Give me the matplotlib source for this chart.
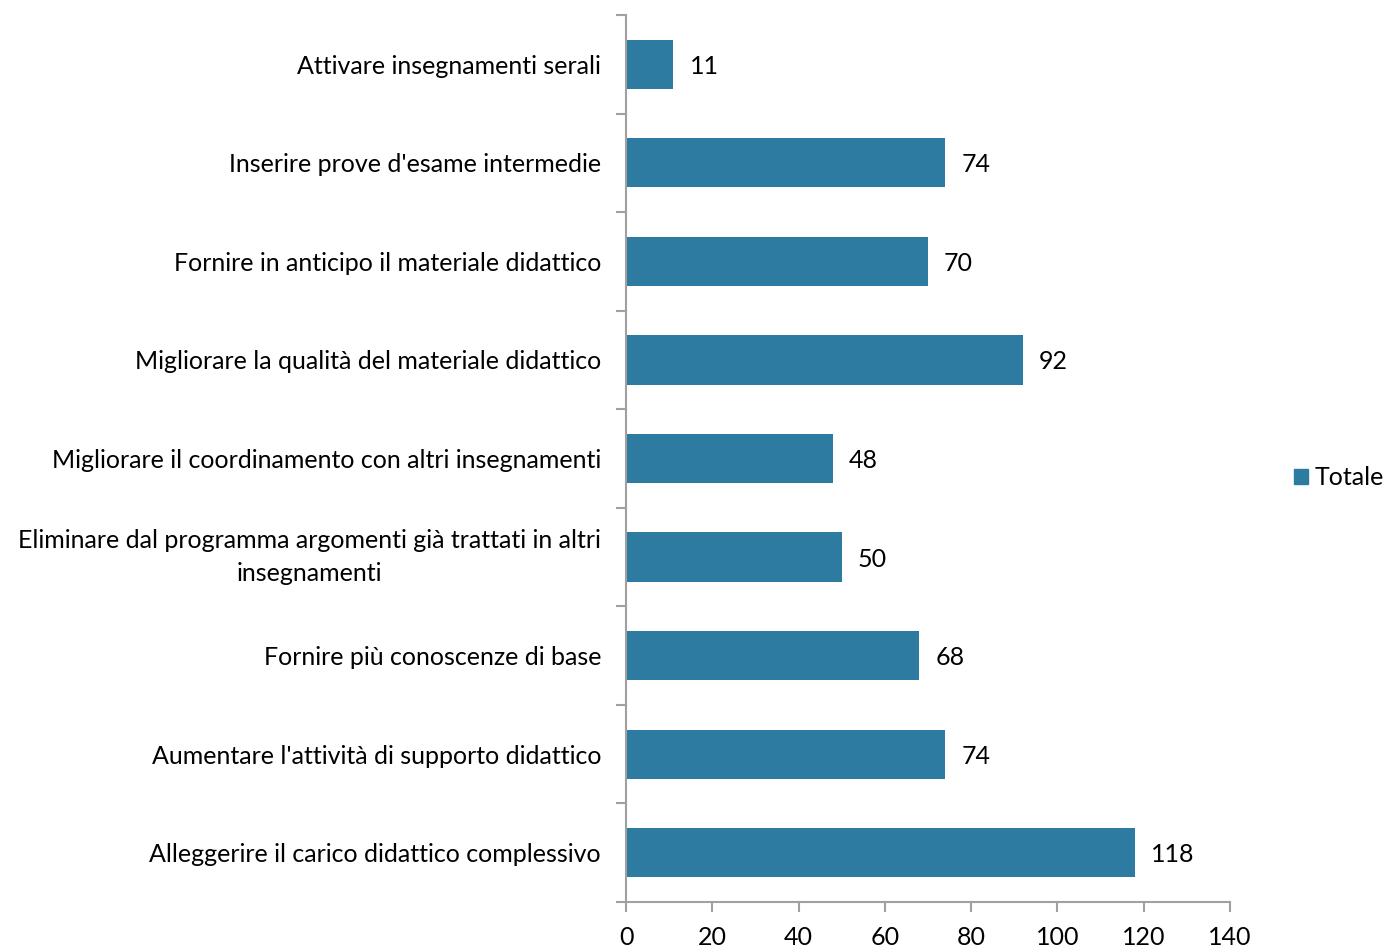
import matplotlib
matplotlib.use("Agg")
import matplotlib.pyplot as plt
from matplotlib.patches import Patch

categories = [
    "Attivare insegnamenti serali",
    "Inserire prove d'esame intermedie",
    "Fornire in anticipo il materiale didattico",
    "Migliorare la qualità del materiale didattico",
    "Migliorare il coordinamento con altri insegnamenti",
    "Eliminare dal programma argomenti già trattati in altri\ninsegnamenti",
    "Fornire più conoscenze di base",
    "Aumentare l'attività di supporto didattico",
    "Alleggerire il carico didattico complessivo",
]
values = [11, 74, 70, 92, 48, 50, 68, 74, 118]
series_name = "Totale"
xticks = [0, 20, 40, 60, 80, 100, 120, 140]

plt.rcParams['font.family'] = ['Lato', 'DejaVu Sans']
FS = 18
BAR = "#2E7BA1"
AX = "#A0A0A0"

fig = plt.figure(figsize=(13.88, 9.49), dpi=100)
ax = fig.add_axes([626/1388, 1-902/949, (1230-626)/1388, (902-15)/949])

n = len(categories)
ypos = list(range(n))
ax.barh(ypos, values, height=0.5, color=BAR)
ax.set_ylim(n - 0.5, -0.5)
ax.set_xlim(0, 140)
ax.set_xticks(xticks)
ax.set_xticklabels([str(t) for t in xticks], fontsize=FS)
ax.set_yticks(ypos)
ax.set_yticklabels(categories, fontsize=FS)
for lbl in ax.get_yticklabels():
    lbl.set_multialignment('center')
    lbl.set_linespacing(1.55)
    if '\n' in lbl.get_text():
        lbl.set_verticalalignment('center')
ax.set_yticks([i - 0.5 for i in range(n + 1)], minor=True)
ax.tick_params(axis='y', which='major', length=0, pad=18)
ax.tick_params(axis='y', which='minor', length=7, color=AX, width=1.5)
ax.tick_params(axis='x', length=7, color=AX, width=1.5, pad=10)

for s in ['top', 'right']:
    ax.spines[s].set_visible(False)
for s in ['left', 'bottom']:
    ax.spines[s].set_color(AX)
    ax.spines[s].set_linewidth(1.5)

for y, v in zip(ypos, values):
    ax.annotate(str(v), (v, y), xytext=(16, -2), textcoords='offset pixels',
                va='center', ha='left', fontsize=FS)

fig.legend(handles=[Patch(color=BAR, label=series_name)], loc='center left',
           bbox_to_anchor=(1294/1388, 1-478/949), frameon=False, fontsize=FS,
           handlelength=0.56, handleheight=0.56, handletextpad=0.25, borderaxespad=0,
           borderpad=0)

fig.savefig("out.png", dpi=100)
